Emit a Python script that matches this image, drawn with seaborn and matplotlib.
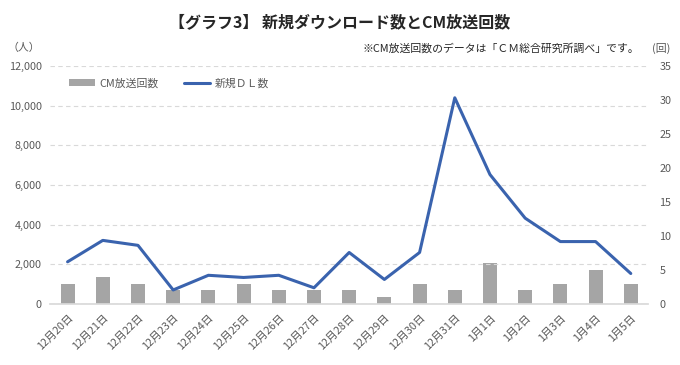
import numpy as np
import pandas as pd
import matplotlib
matplotlib.use('Agg')
import matplotlib.pyplot as plt
import seaborn as sns
from matplotlib.patches import Patch
from matplotlib.lines import Line2D
from matplotlib.ticker import FuncFormatter

# データ
days = ['12月20日', '12月21日', '12月22日', '12月23日', '12月24日', '12月25日',
        '12月26日', '12月27日', '12月28日', '12月29日', '12月30日', '12月31日',
        '1月1日', '1月2日', '1月3日', '1月4日', '1月5日']
new_dl = [2130, 3210, 2960, 710, 1450, 1340, 1450, 820, 2600, 1240, 2600,
          10400, 6530, 4330, 3150, 3150, 1540]
cm_count = [3, 4, 3, 2, 2, 3, 2, 2, 2, 1, 3, 2, 6, 2, 3, 5, 3]

df = pd.DataFrame({'pos': np.arange(len(days)), 'day': days,
                   'dl': new_dl, 'cm': cm_count})

sns.set_theme(style='white')
plt.rcParams['font.family'] = ['Noto Sans CJK JP', 'DejaVu Sans']

text_c = '#595959'
grid_c = '#D9D9D9'
bar_c = '#A5A5A5'
line_c = '#3A63AE'

fig = plt.figure(figsize=(6.8, 3.65), dpi=100)
ax = fig.add_axes([0.0735, 0.167, 0.88, 0.652])
ax2 = ax.twinx()

# 棒グラフ（右軸）
sns.barplot(data=df, x='pos', y='cm', ax=ax2, color=bar_c, width=0.4,
            saturation=1, edgecolor='none')
ax2.set_ylim(0, 35)
ax2.set_yticks(np.arange(0, 36, 5))

# 折れ線（左軸）
sns.lineplot(data=df, x='pos', y='dl', ax=ax, color=line_c, linewidth=2.2)
ax.set_ylim(0, 12000)
ax.set_yticks(np.arange(0, 12001, 2000))
ax.yaxis.set_major_formatter(FuncFormatter(lambda v, p: f'{int(v):,}'))
ax.set_xlim(-0.5, len(days) - 0.5)
ax.set_zorder(ax2.get_zorder() + 1)
ax.patch.set_visible(False)

ax.grid(axis='y', color=grid_c, linestyle=(0, (4, 3)), linewidth=0.8)
ax.set_xticks(df['pos'])
ax.set_xticklabels(days, rotation=45, ha='right', rotation_mode='anchor')
ax.set_xlabel('')
ax.set_ylabel('')
ax2.set_xlabel('')
ax2.set_ylabel('')

for a in (ax, ax2):
    for s in a.spines.values():
        s.set_visible(False)
    a.tick_params(length=0, labelsize=7.8, colors=text_c, pad=6)
ax.spines['bottom'].set_visible(True)
ax.spines['bottom'].set_color(grid_c)
ax2.tick_params(axis='y', pad=8)

# 凡例
handles = [Patch(facecolor=bar_c, edgecolor='none'),
           Line2D([0], [0], color=line_c, linewidth=2.2)]
leg = ax.legend(handles, ['CM放送回数', '新規ＤＬ数'], loc='upper left',
                bbox_to_anchor=(0.015, 0.99), ncol=2, frameon=False,
                fontsize=7.8, handlelength=2.4, columnspacing=2.4,
                handleheight=0.6, handletextpad=0.4)
for t in leg.get_texts():
    t.set_color(text_c)

fig.text(0.5, 0.94, '【グラフ3】 新規ダウンロード数とCM放送回数', ha='center',
         va='center', fontsize=11.5, fontweight='bold', color='#262626')
fig.text(0.035, 0.868, '（人）', ha='center', va='center', fontsize=7.8, color=text_c)
fig.text(0.972, 0.868, '(回)', ha='center', va='center', fontsize=7.8, color=text_c)
fig.text(0.94, 0.868, '※CM放送回数のデータは「ＣＭ総合研究所調べ」です。', ha='right',
         va='center', fontsize=7.8, color='#262626')

fig.savefig('out.png', dpi=100)
